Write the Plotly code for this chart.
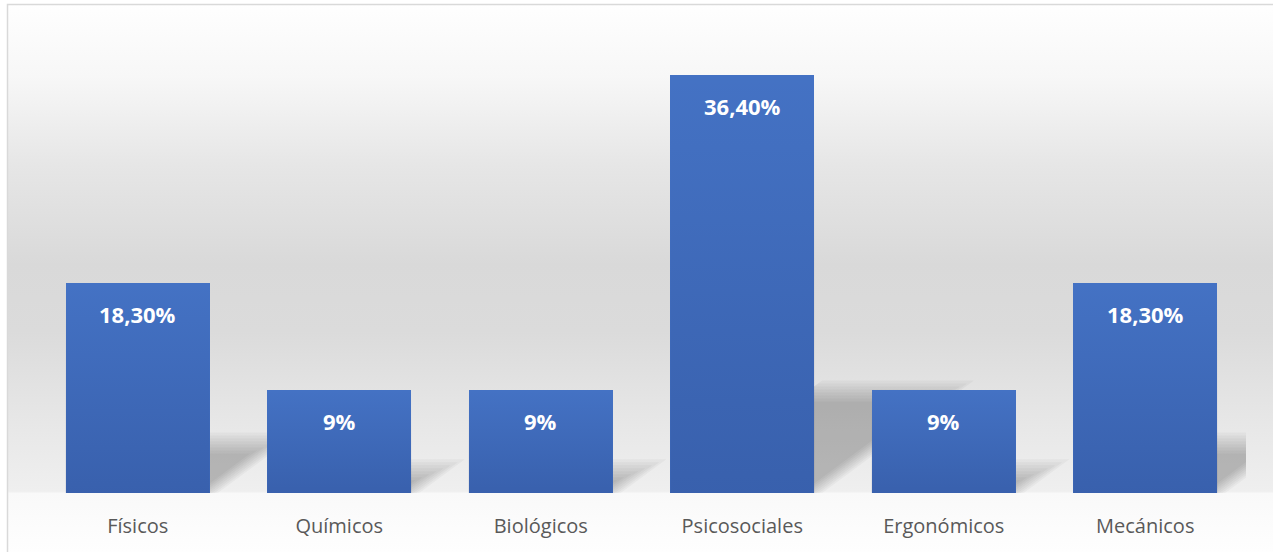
import base64
import plotly.graph_objects as go

# Risk categories and their share of reported hazards
categories = ["Físicos", "Químicos", "Biológicos", "Psicosociales", "Ergonómicos", "Mecánicos"]
values = [18.3, 9.0, 9.0, 36.4, 9.0, 18.3]
value_labels = ["18,30%", "9%", "9%", "36,40%", "9%", "18,30%"]

W, H = 1273, 552
M_L, M_R, M_T, M_B = 37, 27, 34, 59
Y_MAX = 40
BAR_W = 0.715

plot_w = W - M_L - M_R
plot_h = H - M_T - M_B
px_per_x = plot_w / len(categories)
px_per_y = plot_h / Y_MAX

BAR_TOP = "#4472C4"
LABEL_GREY = "#595959"

xs = list(range(len(categories)))

fig = go.Figure()

# main bars
fig.add_trace(go.Bar(
    x=xs, y=values, width=BAR_W,
    marker=dict(color=BAR_TOP, line=dict(width=0)),
    hoverinfo="skip", showlegend=False,
))

# vertical shading on each bar, darker towards the base
for xi, v in zip(xs, values):
    x0, x1 = xi - BAR_W / 2, xi + BAR_W / 2
    fig.add_trace(go.Scatter(
        x=[x0, x1, x1, x0, x0], y=[0, 0, v, v, 0],
        mode="lines", fill="toself", line=dict(width=0),
        fillgradient=dict(
            type="vertical", start=0, stop=v,
            colorscale=[[0, "rgba(20,40,100,0.24)"], [1, "rgba(20,40,100,0)"]],
        ),
        hoverinfo="skip", showlegend=False,
    ))

# value labels inside the top of each bar
for xi, v, lab in zip(xs, values, value_labels):
    fig.add_annotation(
        x=xi, y=v, text=f"<b>{lab}</b>", showarrow=False,
        yanchor="middle", yshift=-31,
        font=dict(family="Open Sans", size=22, color="white"),
    )

# soft perspective shadow cast to the right of every bar
shapes = []
layers = [-8, -5, -2, 1, 4, 7, 10, 13]
for xi, v in zip(xs, values):
    hs = 0.25 * v * px_per_y          # shadow height in px
    skew = 1.35 * hs                  # horizontal lean in px
    xl = xi - BAR_W / 2
    xr = xi + BAR_W / 2
    for d in layers:
        top = max(hs - d, 1) / px_per_y
        lean = max(skew - d * 1.35, 0) / px_per_x
        sx = d / px_per_x
        path = (f"M {xl:.4f},0 L {xr - sx:.4f},0 "
                f"L {xr - sx + lean:.4f},{top:.4f} "
                f"L {xl + lean:.4f},{top:.4f} Z")
        shapes.append(dict(
            type="path", path=path, xref="x", yref="y",
            fillcolor="rgba(0,0,0,0.03)", line=dict(width=0), layer="below",
        ))

# chart background: vertical grey band fading to white, with a thin frame
stops = [
    (0.00, "#ffffff"), (0.14, "#f7f7f7"), (0.30, "#e6e6e6"), (0.48, "#d9d9d9"),
    (0.60, "#dbdbdb"), (0.78, "#e8e8e8"), (0.890, "#efefef"), (0.894, "#f9f9f9"),
    (1.00, "#fefefe"),
]
stop_xml = "".join(f'<stop offset="{o}" stop-color="{c}"/>' for o, c in stops)
svg = (
    f'<svg xmlns="http://www.w3.org/2000/svg" width="{W}" height="{H}" '
    f'viewBox="0 0 {W} {H}" preserveAspectRatio="none">'
    f'<defs><linearGradient id="g" gradientUnits="userSpaceOnUse" '
    f'x1="0" y1="0" x2="0" y2="{H}">{stop_xml}</linearGradient></defs>'
    f'<rect x="0" y="0" width="{W}" height="{H}" fill="#ffffff"/>'
    f'<rect x="7.5" y="4.5" width="{W + 10}" height="{H + 10}" fill="url(#g)" '
    f'stroke="#d9d9d9" stroke-width="1.5"/>'
    f'</svg>'
)
src = "data:image/svg+xml;base64," + base64.b64encode(svg.encode()).decode()

fig.add_layout_image(dict(
    source=src, xref="paper", yref="paper",
    x=-M_L / plot_w, y=1 + M_T / plot_h,
    sizex=W / plot_w, sizey=H / plot_h,
    xanchor="left", yanchor="top", sizing="stretch", layer="below",
))

fig.update_layout(
    width=W, height=H,
    margin=dict(l=M_L, r=M_R, t=M_T, b=M_B),
    paper_bgcolor="white", plot_bgcolor="rgba(0,0,0,0)",
    shapes=shapes, bargap=0, showlegend=False,
    xaxis=dict(
        range=[-0.5, len(categories) - 0.5],
        tickvals=xs, ticktext=categories,
        showgrid=False, zeroline=False, showline=False,
        ticks="outside", ticklen=15, tickcolor="rgba(0,0,0,0)",
        tickfont=dict(family="Open Sans", size=20, color=LABEL_GREY),
        fixedrange=True,
    ),
    yaxis=dict(
        range=[0, Y_MAX], visible=False, showgrid=False, zeroline=False,
        fixedrange=True,
    ),
)

fig.write_html("out.html", config={"displayModeBar": False})
